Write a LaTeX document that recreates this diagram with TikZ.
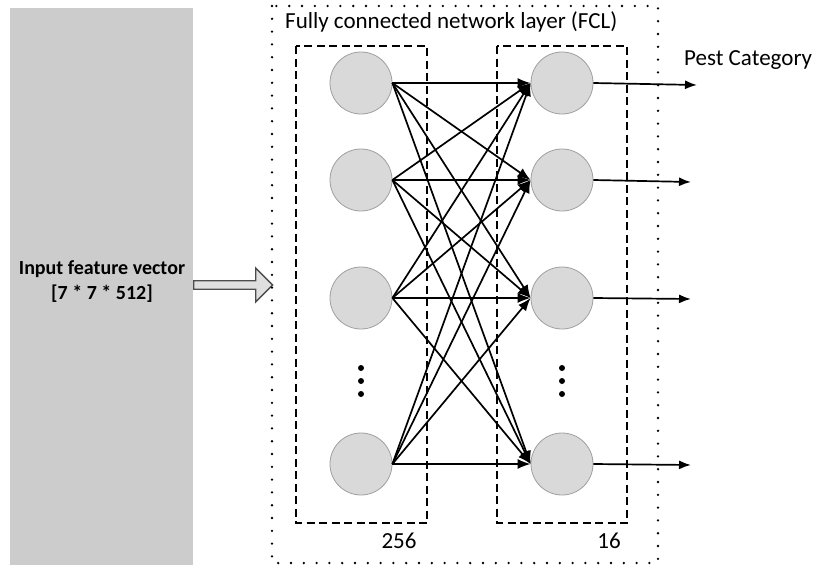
\documentclass[tikz,border=0pt]{standalone}
\usepackage{fontspec}
\setmainfont{Carlito}
\usetikzlibrary{arrows.meta,shapes.arrows}
\begin{document}
\begin{tikzpicture}[x=1pt,y=-1pt,
  neuron/.style={circle,draw=gray!75,line width=0.8pt,fill=gray!30,minimum size=62pt,inner sep=0pt},
  conn/.style={line width=1.7pt,-{Latex[length=13pt,width=10pt]}},
  outarr/.style={line width=1.7pt,-{Latex[length=12pt,width=9pt]}},
  lbl/.style={font=\fontsize{23}{26}\selectfont,inner sep=0pt}]
\useasboundingbox (0,0) rectangle (814,565);
% input block
\fill[gray!40] (10,8) rectangle (193,565);
\node[font=\bfseries\fontsize{20}{25}\selectfont,align=center] (inp) at (102,282) {Input feature vector\\{}[7 * 7 * 512]};
\node[single arrow,draw=black!70,fill=gray!25,line width=1.3pt,minimum height=79pt,minimum width=34pt,single arrow head extend=2pt,inner sep=0pt,single arrow tip angle=90,anchor=tail] (blk) at (193,285) {};
% FCL box
\draw[line width=2.6pt,line cap=round,dash pattern=on 0pt off 12.8pt] (272,6) rectangle (658,563);
\node[lbl,anchor=west] (title) at (285,22) {Fully connected network layer (FCL)};
% layer boxes
\draw[line width=1.8pt,dash pattern=on 8pt off 4.5pt] (296,46) rectangle (427,523);
\draw[line width=1.8pt,dash pattern=on 8pt off 4.5pt] (497,46) rectangle (627,523);
\node[lbl] (n256) at (399,541) {256};
\node[lbl] (n16) at (609,541) {16};
% neurons
\foreach \i/\y in {1/83,2/180,3/298,4/464}{
  \node[neuron] (l\i) at (361,\y) {};
  \node[neuron] (r\i) at (562,\y) {};
}
\foreach \x in {361,562}{
  \foreach \y in {368,381,394}{ \fill (\x,\y) circle (3pt); }
}
% connections
\foreach \i in {1,...,4}{
  \foreach \j in {1,...,4}{
    \draw[conn] (l\i.east) -- (r\j.west);
  }
}
% outputs
\coordinate (o1) at (697,85);
\coordinate (o2) at (691,182);
\coordinate (o3) at (691,299);
\coordinate (o4) at (691,465);
\foreach \i in {1,...,4}{ \draw[outarr] (r\i.east) -- (o\i); }
\node[lbl,anchor=west] (pest) at (684,60) {Pest Category};
\end{tikzpicture}
\end{document}
